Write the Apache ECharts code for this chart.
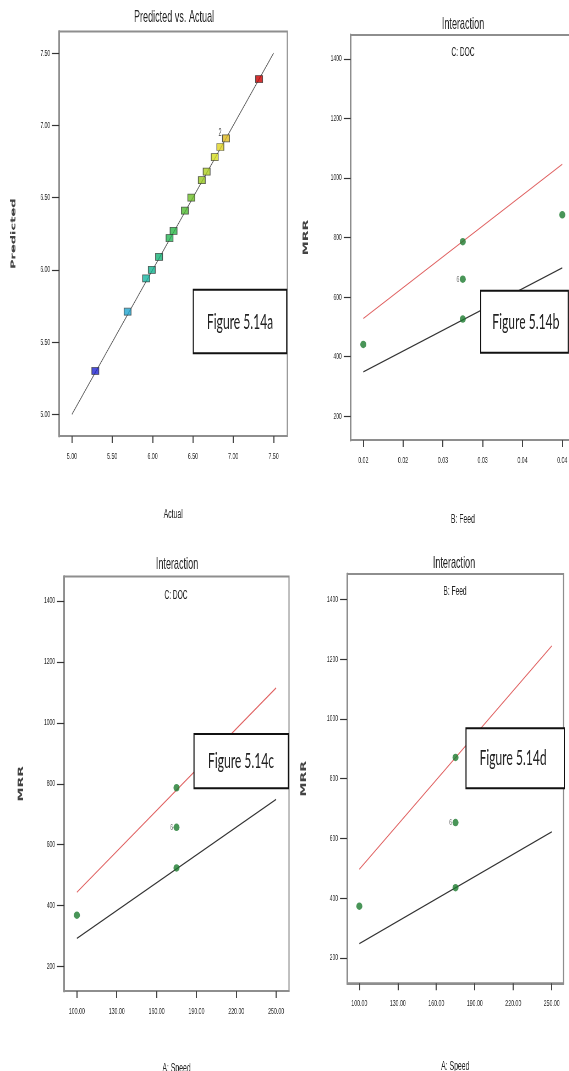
<!DOCTYPE html>
<html><head><meta charset="utf-8">
<script src="https://cdn.jsdelivr.net/npm/echarts@6/dist/echarts.min.js"></script>
<style>
html,body{margin:0;padding:0;background:#fff;overflow:hidden}
#wrap{width:569px;height:1071px;overflow:hidden;position:relative;background:#fff}
#chart{width:1034.5454px;height:1071px;transform:scaleX(0.55);transform-origin:0 0}
</style></head>
<body><div id="wrap"><div id="chart"></div></div>
<script>
// ---------- data ----------
// Fig 5.14a : Predicted vs. Actual
const actual    = [5.29, 5.69, 5.92, 5.99, 6.08, 6.21, 6.26, 6.40, 6.48, 6.61, 6.67, 6.77, 6.84, 6.91, 7.32];
const predicted = [5.30, 5.71, 5.94, 6.00, 6.09, 6.22, 6.27, 6.41, 6.50, 6.62, 6.68, 6.78, 6.85, 6.91, 7.32];
const actualPtLabels = ['', '', '', '', '', '', '', '', '', '', '', '', '', '2', ''];
const parityLine = [5.0, 7.5];
const actualTicks = [5.0, 5.5, 6.0, 6.5, 7.0, 7.5];
const actualTickLabels = ['5.00', '5.50', '6.00', '6.50', '7.00', '7.50'];

// Fig 5.14b : MRR vs B: Feed, lines for C: DOC
const feedEnds = [0.02, 0.045];
const mrrHighDOC_feed = [528, 1046];
const mrrLowDOC_feed = [349, 698];
const feedPts = [0.02, 0.0325, 0.0325, 0.0325, 0.045];
const mrrPts_feed = [441, 786, 660, 526, 876];
const feedPtLabels = ['', '', '6', '', ''];
const feedTicks = [0.02, 0.025, 0.03, 0.035, 0.04, 0.045];
const feedTickLabels = ['0.02', '0.02', '0.03', '0.03', '0.04', '0.04'];

// Fig 5.14c : MRR vs A: Speed, lines for C: DOC
const speedEnds = [100, 250];
const mrrHighDOC_speed = [444, 1115];
const mrrLowDOC_speed = [293, 749];
const speedPts = [100, 175, 175, 175];
const mrrPts_speedDOC = [369, 787, 657, 524];
// Fig 5.14d : MRR vs A: Speed, lines for B: Feed
const mrrHighFeed_speed = [497, 1244];
const mrrLowFeed_speed = [248, 622];
const mrrPts_speedFeed = [373, 871, 653, 435];
const speedPtLabels = ['', '', '6', ''];
const speedTicks = [100, 130, 160, 190, 220, 250];
const speedTickLabels = ['100.00', '130.00', '160.00', '190.00', '220.00', '250.00'];
const mrrTicks = [200, 400, 600, 800, 1000, 1200, 1400];
const mrrTickLabels = ['200', '400', '600', '800', '1000', '1200', '1400'];

// ---------- layout helpers ----------
const S = 0.55;            // horizontal squeeze of the whole picture
const X = px => px / S;
const FONT = 'Liberation Sans';
const AXIS_GRAY = '#8e8e8e';

function lab(ticks, labels) {
  return v => { for (let i = 0; i < ticks.length; i++) if (Math.abs(ticks[i] - v) < 1e-9) return labels[i]; return ''; };
}
function grid(l, t, r, b) {
  return { left: X(l), top: t, width: X(r - l), height: b - t, show: true,
    borderColor: AXIS_GRAY, borderWidth: 2, containLabel: false, outerBoundsMode: 'none' };
}
function xAx(gi, min, max, ticks, labels, name, gap) {
  return { type: 'value', gridIndex: gi, min, max, name, nameLocation: 'middle', nameGap: gap,
    nameTextStyle: { fontFamily: FONT, fontSize: 12.5, color: '#222' },
    axisLine: { show: true, onZero: false, lineStyle: { color: AXIS_GRAY, width: 2 } },
    axisTick: { show: true, customValues: ticks, length: 7, lineStyle: { color: '#444', width: 2 } },
    axisLabel: { customValues: ticks, formatter: lab(ticks, labels), margin: 15, fontSize: 9.5, color: '#2a2a2a', fontFamily: FONT },
    splitLine: { show: false } };
}
function yAx(gi, min, max, ticks, labels, name, gap, nameStyle) {
  return { type: 'value', gridIndex: gi, min, max, name, nameLocation: 'middle', nameGap: gap, nameRotate: 90,
    nameTextStyle: nameStyle,
    axisLine: { show: true, onZero: false, lineStyle: { color: AXIS_GRAY, width: 3 } },
    axisTick: { show: true, customValues: ticks, length: X(7), lineStyle: { color: '#333', width: 1.2 } },
    axisLabel: { customValues: ticks, formatter: lab(ticks, labels), margin: X(9), fontSize: 9, color: '#2a2a2a', fontFamily: FONT },
    splitLine: { show: false } };
}
const mrrName = { fontFamily: 'DejaVu Sans', fontWeight: 'bold', fontSize: 14, color: '#444' };

function lineSeries(gi, xs, ys, color) {
  return { type: 'line', xAxisIndex: gi, yAxisIndex: gi, data: xs.map((x, i) => [x, ys[i]]),
    symbol: 'none', lineStyle: { color, width: 1.3 }, z: 2, silent: true };
}
function designPts(gi, xs, ys, labels) {
  return { type: 'scatter', xAxisIndex: gi, yAxisIndex: gi, data: xs.map((x, i) => [x, ys[i]]),
    symbol: 'circle', symbolSize: [X(6), 7.5], itemStyle: { color: '#1b7a2e' }, z: 3,
    label: { show: true, position: 'left', distance: 1, fontSize: 9, color: '#555', fontFamily: FONT,
      formatter: p => labels[p.dataIndex] } };
}
function txt(x, y, text, size, extra) {
  return Object.assign({ type: 'text', x: X(x), y, z: 50,
    style: Object.assign({ text, align: 'center', verticalAlign: 'middle', fontFamily: FONT, fontSize: size, fill: '#222' }, extra || {}) });
}
function figBox(l, t, r, b, text, cx, cy) {
  return { type: 'group', z: 100, children: [
    { type: 'rect', z: 100, shape: { x: X(l), y: t, width: X(r - l), height: b - t }, style: { fill: '#fff', stroke: '#111', lineWidth: 2 } },
    { type: 'text', z: 101, x: X(cx), y: cy, style: { text, align: 'center', verticalAlign: 'middle', fontFamily: 'Lato', fontSize: 22, fill: '#222' } }
  ] };
}

const option = {
  animation: false,
  backgroundColor: '#fff',
  grid: [
    grid(59, 31.4, 287.3, 436),
    grid(350.7, 35, 575, 440),
    grid(64, 576.6, 289, 991),
    grid(347, 574, 563.5, 983.3)
  ],
  xAxis: [
    xAx(0, 4.84, 7.67, actualTicks, actualTickLabels, 'Actual', 72),
    xAx(1, 0.01842, 0.0466, feedTicks, feedTickLabels, 'B: Feed', 73),
    xAx(2, 90.3, 259.7, speedTicks, speedTickLabels, 'A: Speed', 71),
    xAx(3, 90.4, 259.2, speedTicks, speedTickLabels, 'A: Speed', 77)
  ],
  yAxis: [
    yAx(0, 4.85, 7.65, actualTicks, actualTickLabels, 'Predicted', 76,
      { fontFamily: 'DejaVu Sans', fontWeight: 'bold', fontSize: 13, color: '#444' }),
    yAx(1, 120, 1480, mrrTicks, mrrTickLabels, 'MRR', 74, mrrName),
    yAx(2, 120, 1480, mrrTicks, mrrTickLabels, 'MRR', 71, mrrName),
    yAx(3, 115, 1485, mrrTicks, mrrTickLabels, 'MRR', 72, mrrName)
  ],
  visualMap: {
    type: 'continuous', show: false, seriesIndex: 1, dimension: 1, min: 5.29, max: 7.32,
    inRange: { color: ['#2020d0', '#2080e0', '#20b8c8', '#10b080', '#30b840', '#80c020', '#e0e020', '#e08020', '#c80000'] }
  },
  series: [
    { type: 'line', xAxisIndex: 0, yAxisIndex: 0, data: parityLine.map(v => [v, v]), symbol: 'none',
      lineStyle: { color: '#555', width: 1.2 }, z: 2, silent: true },
    { type: 'scatter', xAxisIndex: 0, yAxisIndex: 0, data: actual.map((a, i) => [a, predicted[i]]),
      symbol: 'rect', symbolSize: [X(7), 7], itemStyle: { borderColor: '#333', borderWidth: 1 }, z: 3,
      label: { show: true, position: 'left', distance: 1, offset: [0, -5], fontSize: 10, color: '#111', fontFamily: FONT,
        formatter: p => actualPtLabels[p.dataIndex] } },

    lineSeries(1, feedEnds, mrrHighDOC_feed, '#e06060'),
    lineSeries(1, feedEnds, mrrLowDOC_feed, '#333'),
    designPts(1, feedPts, mrrPts_feed, feedPtLabels),

    lineSeries(2, speedEnds, mrrHighDOC_speed, '#e06060'),
    lineSeries(2, speedEnds, mrrLowDOC_speed, '#333'),
    designPts(2, speedPts, mrrPts_speedDOC, speedPtLabels),

    lineSeries(3, speedEnds, mrrHighFeed_speed, '#e06060'),
    lineSeries(3, speedEnds, mrrLowFeed_speed, '#333'),
    designPts(3, speedPts, mrrPts_speedFeed, speedPtLabels)
  ],
  graphic: [
    txt(174, 17, 'Predicted vs. Actual', 16.5),
    txt(463, 24, 'Interaction', 16.5),
    txt(463, 53, 'C: DOC', 12),
    txt(177, 564.5, 'Interaction', 16.5),
    txt(176, 595.6, 'C: DOC', 12),
    txt(454, 563, 'Interaction', 16.5),
    txt(455, 592, 'B: Feed', 12),
    figBox(193.3, 289.7, 286.7, 353.2, 'Figure 5.14a', 240, 321.5),
    figBox(480.7, 290.7, 568.3, 352.7, 'Figure 5.14b', 525.8, 321.7),
    figBox(194, 734, 288.3, 788.3, 'Figure 5.14c', 241, 761),
    figBox(466, 728.3, 564.3, 788.3, 'Figure 5.14d', 513, 758.3)
  ]
};
const chart = echarts.init(document.getElementById('chart'));
chart.setOption(option);
</script>
</body></html>
